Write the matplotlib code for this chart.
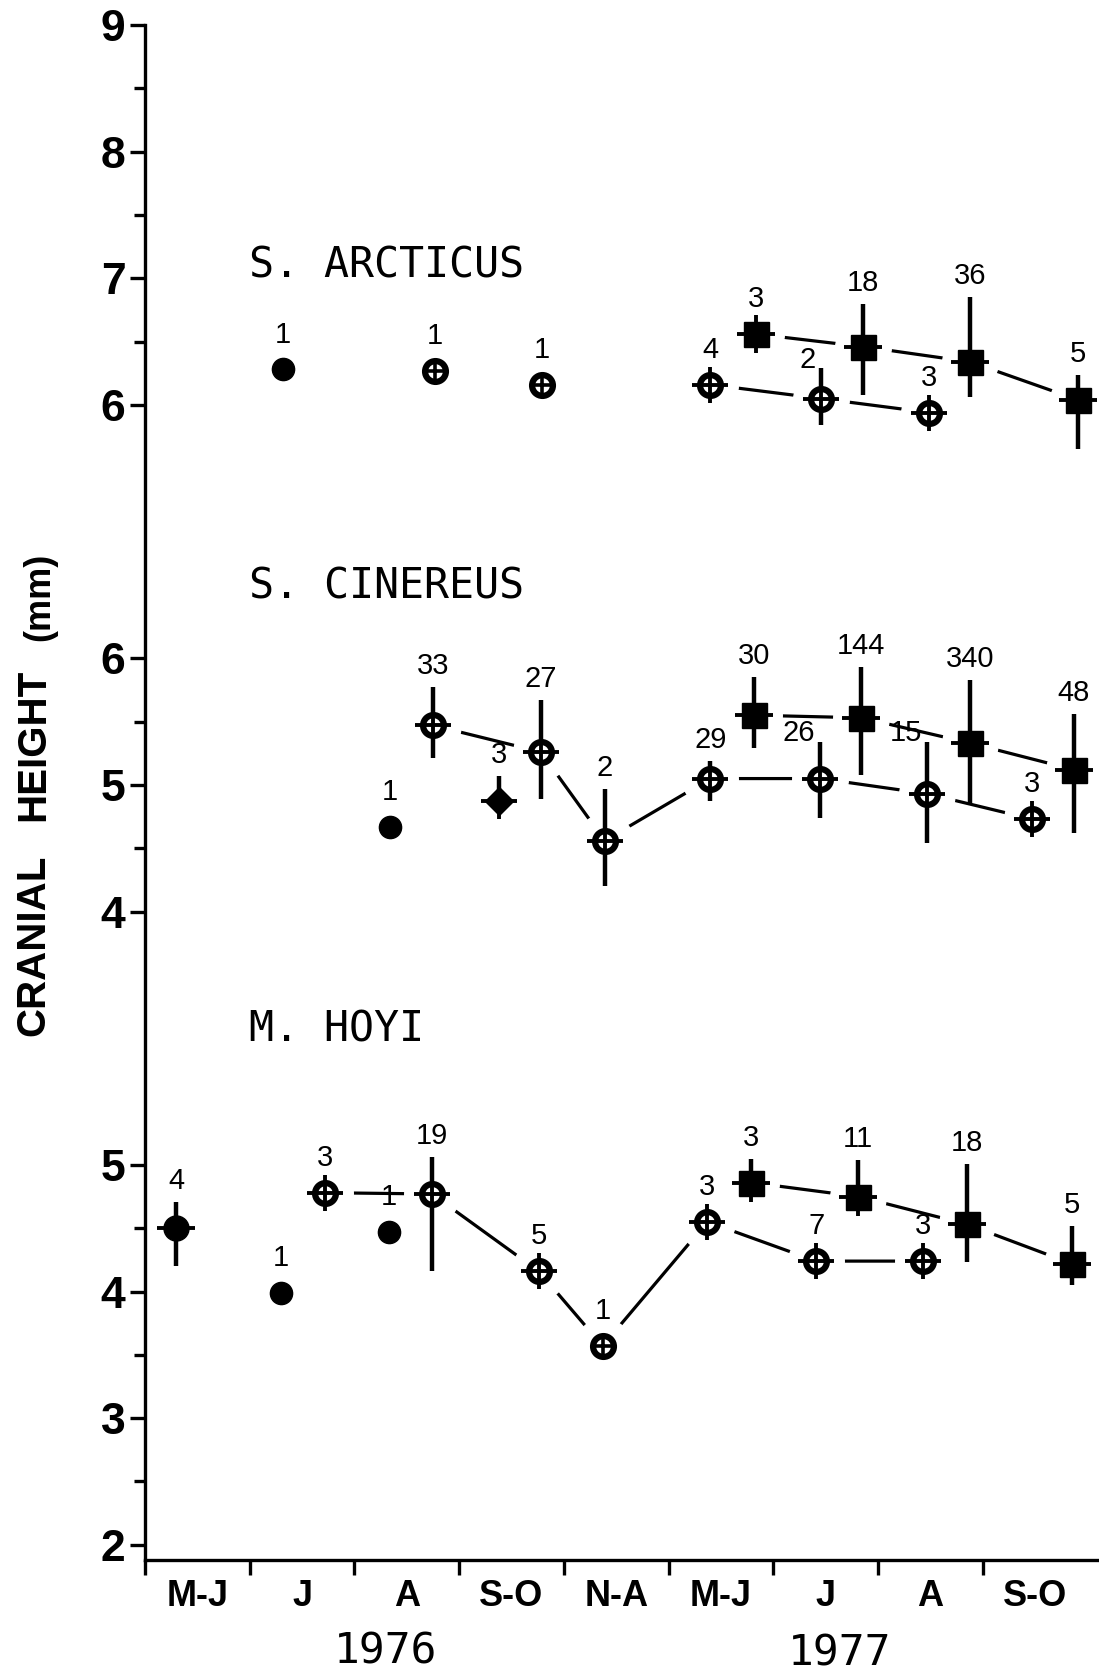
import numpy as np
import matplotlib
matplotlib.use('Agg')
import matplotlib.pyplot as plt

# x axis groups (one slot per sampling period)
months = ['M-J', 'J', 'A', 'S-O', 'N-A', 'M-J', 'J', 'A', 'S-O']
years = ['1976', '1977']

# ---- S. arcticus (mm) ----
arc_iso_x = [0.82, 2.27, 3.29]
arc_iso_y = [6.28, 6.27, 6.16]
arc_iso_n = [1, 1, 1]
arc_iso_kind = ['filled', 'crossed', 'crossed']

arc_open_x = [4.90, 5.96, 6.99]
arc_open_y = [6.16, 6.05, 5.94]
arc_open_n = [4, 2, 3]
arc_open_up = [0, 0.24, 0]
arc_open_dn = [0, 0.21, 0]

arc_sq_x = [5.33, 6.36, 7.38, 8.41]
arc_sq_y = [6.56, 6.46, 6.34, 6.04]
arc_sq_n = [3, 18, 36, 5]
arc_sq_up = [0, 0.34, 0.51, 0.20]
arc_sq_dn = [0, 0.38, 0.28, 0.39]

# ---- S. cinereus (mm) ----
cin_iso_x = [1.84, 2.88]
cin_iso_y = [4.67, 4.87]
cin_iso_n = [1, 3]
cin_iso_kind = ['filled', 'diamond']
cin_iso_up = [0, 0.20]
cin_iso_dn = [0, 0]

cin_open_x = [2.25, 3.28, 3.89, 4.90, 5.95, 6.97, 7.97]
cin_open_y = [5.47, 5.26, 4.56, 5.05, 5.05, 4.93, 4.73]
cin_open_n = [33, 27, 2, 29, 26, 15, 3]
cin_open_up = [0.30, 0.41, 0.41, 0.14, 0.29, 0.41, 0]
cin_open_dn = [0.26, 0.37, 0.36, 0.18, 0.31, 0.39, 0]

cin_sq_x = [5.32, 6.34, 7.38, 8.37]
cin_sq_y = [5.55, 5.53, 5.33, 5.12]
cin_sq_n = [30, 144, 340, 48]
cin_sq_up = [0.30, 0.40, 0.50, 0.44]
cin_sq_dn = [0.26, 0.45, 0.47, 0.50]

# ---- M. hoyi (mm) ----
hoy_iso_x = [-0.20, 0.80, 1.83]
hoy_iso_y = [4.50, 3.99, 4.47]
hoy_iso_n = [4, 1, 1]
hoy_iso_kind = ['spiked', 'filled', 'filled']
hoy_iso_up = [0.21, 0, 0]
hoy_iso_dn = [0.30, 0, 0]

hoy_open_x = [1.22, 2.24, 3.26, 3.87, 4.87, 5.91, 6.93]
hoy_open_y = [4.78, 4.77, 4.16, 3.57, 4.55, 4.24, 4.24]
hoy_open_n = [3, 19, 5, 1, 3, 7, 3]
hoy_open_kind = ['open', 'open', 'open', 'crossed', 'open', 'open', 'open']
hoy_open_up = [0, 0.29, 0, 0, 0, 0, 0]
hoy_open_dn = [0, 0.61, 0, 0, 0, 0, 0]

hoy_sq_x = [5.29, 6.31, 7.35, 8.35]
hoy_sq_y = [4.86, 4.75, 4.53, 4.22]
hoy_sq_n = [3, 11, 18, 5]
hoy_sq_up = [0.19, 0.29, 0.48, 0.30]
hoy_sq_dn = [0, 0.05, 0.30, 0.17]

# each species has its own scale, stacked on one axis
arc_off, cin_off, hoy_off = 0, -2, -5
arc_ticks = [9, 8, 7, 6]
cin_ticks = [6, 5, 4]
hoy_ticks = [5, 4, 3, 2]

lab_font = ['Liberation Sans', 'DejaVu Sans']


def draw_marker(ax, x, y, kind):
    if kind == 'filled':
        ax.plot(x, y, 'o', color='k', ms=16, zorder=5)
    elif kind == 'crossed':
        ax.plot(x, y, 'o', mfc='white', mec='k', mew=4.5, ms=15, zorder=5)
        ax.plot(x, y, '+', color='k', ms=14, mew=2.6, zorder=6)
    elif kind == 'open':
        ax.plot(x, y, 'o', mfc='white', mec='k', mew=4.5, ms=15, zorder=5)
        ax.plot(x, y, '+', color='k', ms=26, mew=2.8, zorder=6)
    elif kind == 'square':
        ax.plot(x, y, 's', color='k', ms=18, zorder=5)
        ax.plot(x, y, '+', color='k', ms=28, mew=2.8, zorder=6)
    elif kind == 'diamond':
        ax.plot(x, y, 'D', color='k', ms=14, zorder=5)
        ax.plot(x, y, '+', color='k', ms=26, mew=2.8, zorder=6)
    elif kind == 'spiked':
        ax.plot(x, y, 'o', color='k', ms=18, zorder=5)
        ax.plot(x, y, '+', color='k', ms=28, mew=2.8, zorder=6)


def draw_series(ax, x, y, n, off, kinds, up=None, dn=None, joined=False, left_labels=()):
    yy = np.array(y) + off
    if up is None:
        up = [0] * len(x)
        dn = [0] * len(x)
    if joined:
        ax.plot(x, yy, '-', color='k', lw=2.3, zorder=1)
        # drawn gaps between line ends and symbols
        ax.plot(x, yy, 'o', color='white', ms=40, zorder=2)
    ax.errorbar(x, yy, yerr=[dn, up], fmt='none', ecolor='k', elinewidth=3.2,
                capsize=0, zorder=4)
    for i in range(len(x)):
        draw_marker(ax, x[i], yy[i], kinds[i])
        if i in left_labels:
            ax.annotate(str(n[i]), (x[i], yy[i] + up[i]), xytext=(-4, -4),
                        textcoords='offset points', ha='right', va='bottom',
                        fontsize=21, family=lab_font, zorder=7)
        elif up[i] > 0.05:
            ax.annotate(str(n[i]), (x[i], yy[i] + up[i]), xytext=(0, 5),
                        textcoords='offset points', ha='center', va='bottom',
                        fontsize=21, family=lab_font, zorder=7)
        else:
            ax.annotate(str(n[i]), (x[i], yy[i]), xytext=(0, 15),
                        textcoords='offset points', ha='center', va='bottom',
                        fontsize=21, family=lab_font, zorder=7)


fig = plt.figure(figsize=(10.99, 16.78), dpi=100)
ax = fig.add_axes([145 / 1099, 118 / 1678, 1 - 145 / 1099, (1678 - 25 - 118) / 1678])

# S. arcticus
draw_series(ax, arc_iso_x, arc_iso_y, arc_iso_n, arc_off, arc_iso_kind)
draw_series(ax, arc_open_x, arc_open_y, arc_open_n, arc_off, ['open'] * 3,
            arc_open_up, arc_open_dn, joined=True, left_labels=(1,))
draw_series(ax, arc_sq_x, arc_sq_y, arc_sq_n, arc_off, ['square'] * 4,
            arc_sq_up, arc_sq_dn, joined=True)

# S. cinereus
draw_series(ax, cin_iso_x, cin_iso_y, cin_iso_n, cin_off, cin_iso_kind,
            cin_iso_up, cin_iso_dn)
draw_series(ax, cin_open_x, cin_open_y, cin_open_n, cin_off, ['open'] * 7,
            cin_open_up, cin_open_dn, joined=True, left_labels=(4, 5))
draw_series(ax, cin_sq_x, cin_sq_y, cin_sq_n, cin_off, ['square'] * 4,
            cin_sq_up, cin_sq_dn, joined=True)

# M. hoyi
draw_series(ax, hoy_iso_x, hoy_iso_y, hoy_iso_n, hoy_off, hoy_iso_kind,
            hoy_iso_up, hoy_iso_dn)
draw_series(ax, hoy_open_x, hoy_open_y, hoy_open_n, hoy_off, hoy_open_kind,
            hoy_open_up, hoy_open_dn, joined=True)
draw_series(ax, hoy_sq_x, hoy_sq_y, hoy_sq_n, hoy_off, ['square'] * 4,
            hoy_sq_up, hoy_sq_dn, joined=True)

# species names
name_font = ['DejaVu Sans Mono']
ax.text(0.49, 7.10, 'S. ARCTICUS', fontsize=30, family=name_font, va='center', ha='left')
ax.text(0.49, 4.57, 'S. CINEREUS', fontsize=30, family=name_font, va='center', ha='left')
ax.text(0.49, 1.07, 'M. HOYI', fontsize=30, family=name_font, va='center', ha='left')

# axes
ax.set_xlim(-0.5, 8.61)
ax.set_ylim(-3.12, 9)
for s in ['top', 'right']:
    ax.spines[s].set_visible(False)
for s in ['left', 'bottom']:
    ax.spines[s].set_linewidth(2.4)

ypos = ([t + arc_off for t in arc_ticks] + [t + cin_off for t in cin_ticks] +
        [t + hoy_off for t in hoy_ticks])
ylab = [str(t) for t in arc_ticks + cin_ticks + hoy_ticks]
ax.set_yticks(ypos)
ax.set_yticklabels(ylab, fontsize=32, fontweight='bold', family=lab_font)
yminor = ([t + 0.5 + arc_off for t in arc_ticks[1:]] + [t + 0.5 + cin_off for t in cin_ticks[1:]] +
          [t + 0.5 + hoy_off for t in hoy_ticks[1:]])
ax.set_yticks(yminor, minor=True)
ax.tick_params(axis='y', which='major', length=11, width=2.4, pad=3)
ax.tick_params(axis='y', which='minor', length=8, width=2.4)

ax.set_xticks(np.arange(-0.5, 8.0, 1))
ax.set_xticklabels([])
ax.set_xticks(np.arange(len(months)), minor=True)
ax.set_xticklabels(months, minor=True, fontsize=26, fontweight='bold', family=lab_font)
ax.tick_params(axis='x', which='major', length=11, width=2.4, direction='out')
ax.tick_params(axis='x', which='minor', length=0, pad=14)

# years under the month groups
year_font = ['DejaVu Sans Mono']
fig.text(386 / 1099, 1 - 1652 / 1678, years[0], fontsize=31, family=year_font,
         ha='center', va='center')
fig.text(840 / 1099, 1 - 1653 / 1678, years[1], fontsize=31, family=year_font,
         ha='center', va='center')

# y label, drawn in pieces as in the original
ylab_font = ['Liberation Sans', 'DejaVu Sans']
fig.text(33 / 1099, 1 - 945 / 1678, 'CRANIAL', rotation=90, fontsize=29,
         fontweight='bold', family=ylab_font, ha='center', va='center')
fig.text(33 / 1099, 1 - 745 / 1678, 'HEIGHT', rotation=90, fontsize=29,
         fontweight='bold', family=ylab_font, ha='center', va='center')
fig.text(40 / 1099, 1 - 597 / 1678, '(mm)', rotation=90, fontsize=26,
         fontweight='bold', family=ylab_font, ha='center', va='center')

fig.savefig('out.png', dpi=100)
